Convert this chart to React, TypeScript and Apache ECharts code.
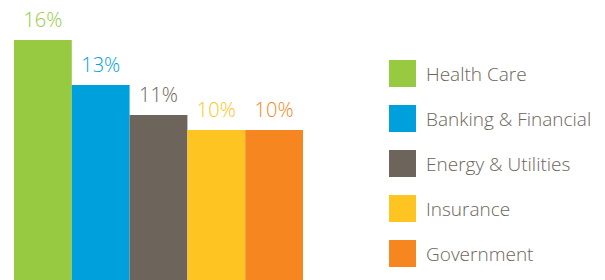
import React, { useEffect, useRef } from "react";
import * as echarts from "echarts";

const categories = ["Health Care", "Banking & Financial", "Energy & Utilities", "Insurance", "Government"];
const values = [16, 13, 11, 10, 10];
const colors = ["#97c941", "#00a0dc", "#6d655b", "#fec422", "#f58620"];

export default function App() {
  const ref = useRef<HTMLDivElement>(null);
  useEffect(() => {
    document.body.style.margin = "0";
    const chart = echarts.init(ref.current!, null, { renderer: "svg" });
    const series = categories.map((name, i) => ({
      name,
      type: "bar",
      stack: "all",
      barCategoryGap: 0,
      itemStyle: { color: colors[i] },
      data: values.map((v, j) => (j === i ? v : null)),
      label: {
        show: true,
        position: "top",
        distance: 11,
        formatter: "{c}%",
        color: colors[i],
        fontFamily: "Open Sans",
        fontWeight: 300,
        fontSize: 20,
      },
    }));
    chart.setOption({
      animation: false,
      grid: { left: 14, width: 289, top: 40, bottom: 0 },
      xAxis: {
        type: "category",
        data: categories,
        show: false,
      },
      yAxis: { type: "value", min: 0, max: 16, show: false },
      legend: {
        orient: "vertical",
        left: 384,
        top: 55,
        itemWidth: 27,
        itemHeight: 27,
        itemGap: 18,
        icon: "rect",
        data: categories,
        textStyle: {
          color: "#6d655b",
          fontFamily: "Open Sans",
          fontWeight: 300,
          fontSize: 19,
          padding: [0, 0, 0, 5],
        },
      },
      series,
    });
    return () => chart.dispose();
  }, []);
  return <div ref={ref} style={{ width: 605, height: 280 }} />;
}
